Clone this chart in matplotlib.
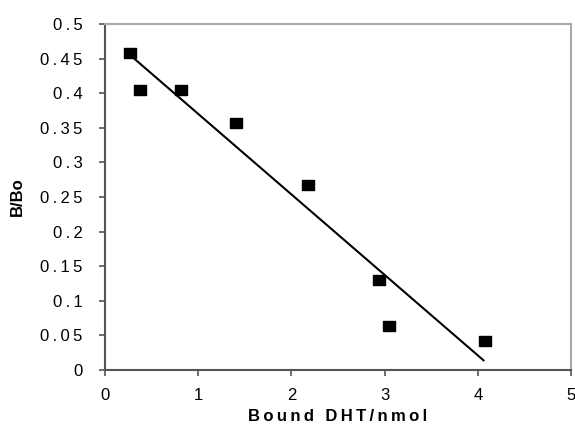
import matplotlib
matplotlib.use("Agg")
import matplotlib.pyplot as plt
from matplotlib.path import Path

bound = [0.263, 0.38, 0.82, 1.41, 2.18, 2.94, 3.046, 4.08]
b_bo = [0.4585, 0.404, 0.405, 0.357, 0.268, 0.1305, 0.064, 0.042]
fit_x = [0.27, 4.07]
fit_y = [0.455, 0.013]
xticks = [0, 1, 2, 3, 4, 5]
yticks = [0, 0.05, 0.1, 0.15, 0.2, 0.25, 0.3, 0.35, 0.4, 0.45, 0.5]
ytick_labels = ["0", "0.05", "0.1", "0.15", "0.2", "0.25", "0.3", "0.35", "0.4", "0.45", "0.5"]

plt.rcParams['font.family'] = ['Liberation Sans', 'DejaVu Sans']

fig = plt.figure(figsize=(5.75, 4.28), dpi=100)
ax = fig.add_axes([105/575, 1-370/428, (571-105)/575, (370-24)/428])

rect = Path([(-6, -5), (6, -5), (6, 5), (-6, 5), (-6, -5)],
            [Path.MOVETO, Path.LINETO, Path.LINETO, Path.LINETO, Path.CLOSEPOLY])

ax.plot(fit_x, fit_y, color='black', lw=1.5, solid_capstyle='butt')
ax.plot(bound, b_bo, linestyle='none', marker=rect, markersize=8.6, color='black')

ax.set_xlim(0, 5)
ax.set_ylim(0, 0.5)
ax.set_xticks(xticks)
ax.set_xticklabels([str(t) for t in xticks])
ax.set_yticks(yticks)
ax.set_yticklabels(['\u2009'.join(s) for s in ytick_labels])
ax.tick_params(direction='out', length=4, width=1.2, color='#555555', labelsize=12)
ax.tick_params(axis='y', pad=12)
ax.tick_params(axis='x', pad=9)
for s in ['left', 'bottom']:
    ax.spines[s].set_color('#555555')
    ax.spines[s].set_linewidth(1.5)
for s in ['top', 'right']:
    ax.spines[s].set_color('#aaaaaa')
    ax.spines[s].set_linewidth(1.5)

xlab = '\u2009'.join('Bound DHT/nmol')
ax.set_xlabel(xlab, fontsize=12, fontweight='bold')
ax.xaxis.set_label_coords(0.5, -0.113)
ax.set_ylabel('B/Bo', fontsize=12, fontweight='bold')
ax.yaxis.label.set_va('center')
ax.yaxis.set_label_coords(-0.187, 0.5)

fig.savefig('out.png', dpi=100)
